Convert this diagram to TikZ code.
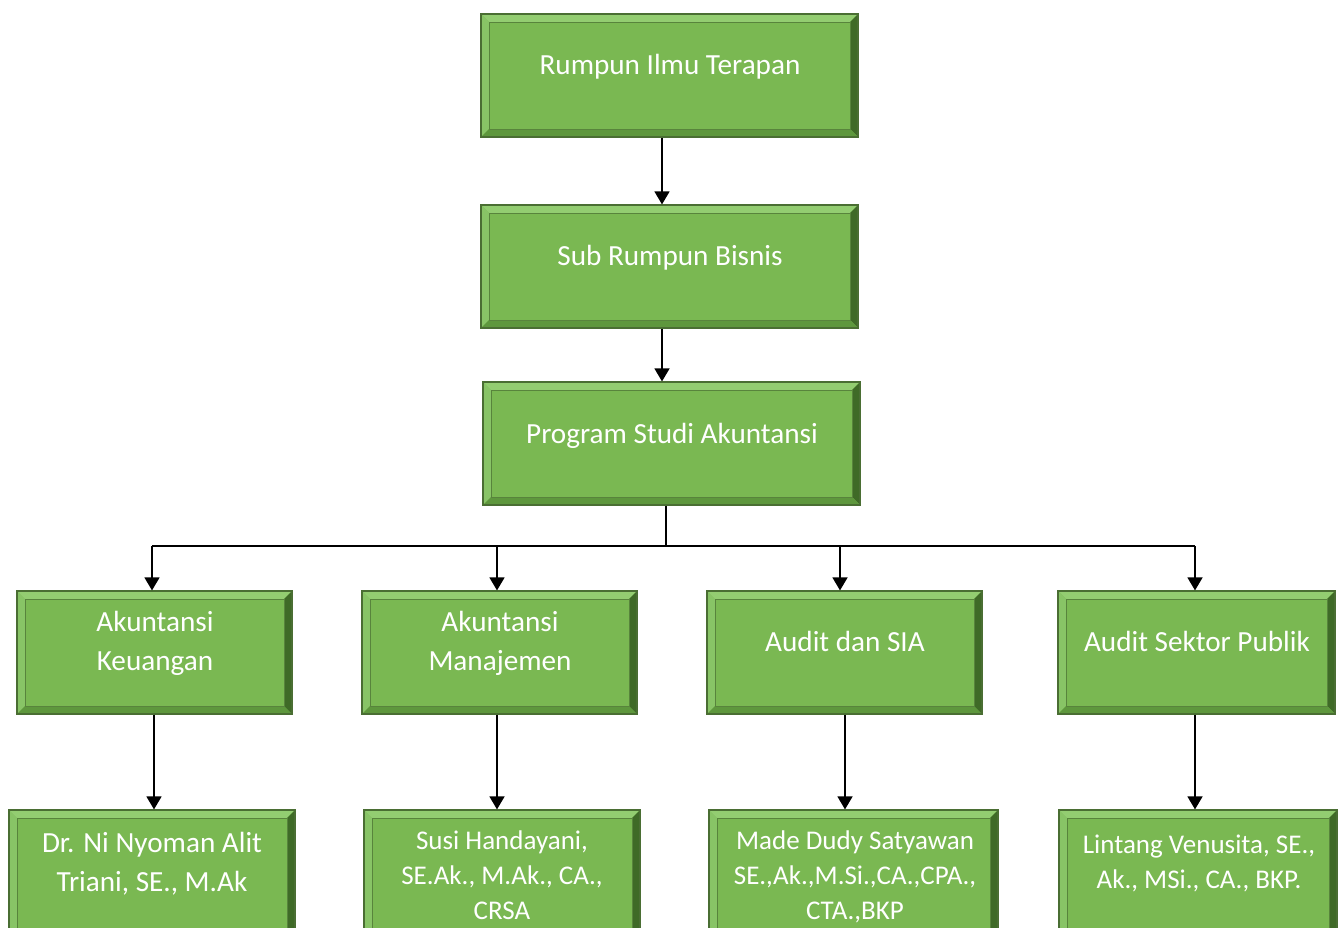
\documentclass[tikz,border=0pt]{standalone}
\usepackage{fontspec}
\setmainfont{Carlito}
\usetikzlibrary{fit,arrows.meta}
\definecolor{boxg}{HTML}{7AB852}
\definecolor{edgeg}{HTML}{4A6E33}
\definecolor{bevtop}{HTML}{93CD71}
\definecolor{bevleft}{HTML}{88C466}
\definecolor{bevright}{HTML}{3F6A27}
\definecolor{bevbot}{HTML}{5E973D}
\tikzset{
  bev/.style={fill=boxg, draw=edgeg, line width=0.6pt, inner sep=0pt,
    path picture={
      \path (path picture bounding box.north west) coordinate (pnw)
            (path picture bounding box.north east) coordinate (pne)
            (path picture bounding box.south west) coordinate (psw)
            (path picture bounding box.south east) coordinate (pse);
      \fill[bevtop] (pnw) -- (pne) -- ([shift={(-4pt,-4pt)}]pne) -- ([shift={(4pt,-4pt)}]pnw) -- cycle;
      \fill[bevleft] (pnw) -- (psw) -- ([shift={(4pt,4pt)}]psw) -- ([shift={(4pt,-4pt)}]pnw) -- cycle;
      \fill[bevright] (pne) -- (pse) -- ([shift={(-4pt,4pt)}]pse) -- ([shift={(-4pt,-4pt)}]pne) -- cycle;
      \fill[bevbot] (psw) -- (pse) -- ([shift={(-4pt,4pt)}]pse) -- ([shift={(4pt,4pt)}]psw) -- cycle;
      \draw[edgeg!70!boxg, line width=0.4pt] ([shift={(4pt,4pt)}]psw) rectangle ([shift={(-4pt,-4pt)}]pne);
    }},
  txt/.style={text=white, font=\fontsize{14.6}{19.5}\selectfont, align=center, inner sep=0pt, anchor=base},
  txs/.style={text=white, font=\fontsize{13.5}{17.5}\selectfont, align=center, inner sep=0pt, anchor=base},
  arr/.style={draw=black, line width=0.75pt, -{Triangle[length=6.5pt,width=7.5pt]}},
  ln/.style={draw=black, line width=0.75pt}
}
\begin{document}
\begin{tikzpicture}[x=0.5pt,y=-0.5pt]
\clip (0,0) rectangle (1343,927);
\fill[white] (0,0) rectangle (1343,927);
% top column
\node[bev, fit={(481,14)(858,137)}] (b1) {};
\node[txt] (t1) at (670,74) {Rumpun Ilmu Terapan};
\node[bev, fit={(481,205)(858,328)}] (b2) {};
\node[txt] (t2) at (670,265) {Sub Rumpun Bisnis};
\node[bev, fit={(483,382)(860,505)}] (b3) {};
\node[txt] (t3) at (672,443) {Program Studi Akuntansi};
% second row
\node[bev, fit={(17,591)(292,714)}] (a1) {};
\node[txt] (ta1) at (155,670) {Akuntansi\\Keuangan};
\node[bev, fit={(362,591)(637,714)}] (a2) {};
\node[txt] (ta2) at (500,670) {Akuntansi\\Manajemen};
\node[bev, fit={(707,591)(982,714)}] (a3) {};
\node[txt] (ta3) at (845,651) {Audit dan SIA};
\node[bev, fit={(1058,591)(1335,714)}] (a4) {};
\node[txt] (ta4) at (1197,651) {Audit Sektor Publik};
% third row
\node[bev, fit={(9,810)(295,945)}] (c1) {};
\node[txt] (tc1) at (152,891) {Dr. Ni Nyoman Alit\\Triani, SE., M.Ak};
\node[bev, fit={(364,810)(640,945)}] (c2) {};
\node[txs] (tc2) at (502,919) {Susi Handayani,\\SE.Ak., M.Ak., CA.,\\CRSA};
\node[bev, fit={(709,810)(998,945)}] (c3) {};
\node[txs] (tc3) at (855,919) {Made Dudy Satyawan\\SE.,Ak.,M.Si.,CA.,CPA.,\\CTA.,BKP};
\node[bev, fit={(1059,810)(1337,945)}] (c4) {};
\node[txs] (tc4) at (1199,888) {Lintang Venusita, SE.,\\Ak., MSi., CA., BKP.};
% connectors
\draw[arr] ([xshift=-3.75pt]b1.south) coordinate (p1) -- (p1 |- b2.north);
\draw[arr] ([xshift=-3.75pt]b2.south) coordinate (p2) -- (p2 |- b3.north);
\coordinate (junc) at (666,546);
\coordinate (j1) at (152,546);
\coordinate (j2) at (497,546);
\coordinate (j3) at (840,546);
\coordinate (j4) at (1195,546);
\draw[ln] (b3.south -| junc) -- (junc);
\draw[ln] (j1) -- (j4);
\draw[arr] (j1) -- (j1 |- a1.north);
\draw[arr] (j2) -- (j2 |- a2.north);
\draw[arr] (j3) -- (j3 |- a3.north);
\draw[arr] (j4) -- (j4 |- a4.north);
\draw[arr] ([xshift=-0.25pt]a1.south) coordinate (p5) -- (p5 |- c1.north);
\draw[arr] ([xshift=-1.25pt]a2.south) coordinate (p3) -- (p3 |- c2.north);
\draw[arr] ([xshift=0.25pt]a3.south) coordinate (p6) -- (p6 |- c3.north);
\draw[arr] ([xshift=-0.75pt]a4.south) coordinate (p4) -- (p4 |- c4.north);
\end{tikzpicture}
\end{document}
